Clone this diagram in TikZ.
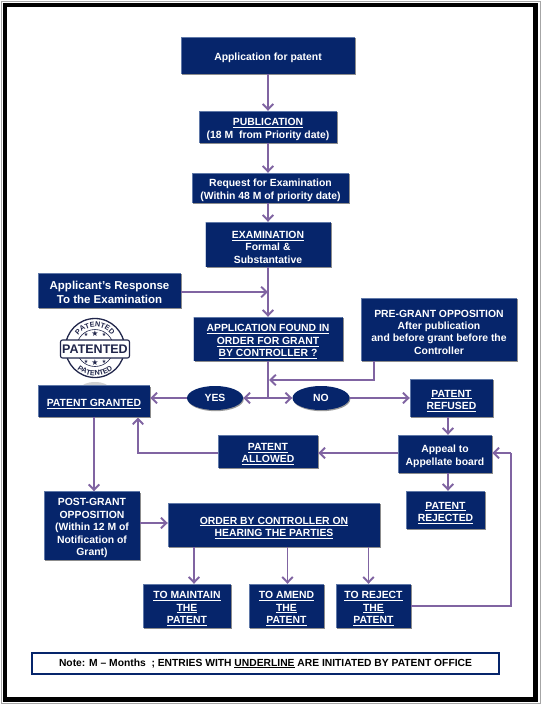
\documentclass[tikz,border=0pt]{standalone}
\usepackage{fontspec}
\setmainfont{Liberation Sans}
\newfontfamily\starfont{DejaVu Sans}
\usetikzlibrary{arrows.meta,shadows,decorations.text,calc,shapes.geometric}
\definecolor{navy}{HTML}{06256B}
\definecolor{bevel}{HTML}{5F78A8}
\definecolor{flow}{HTML}{8064A2}
\definecolor{stampcol}{HTML}{20254A}
\newcommand{\ulx}[1]{\underline{#1}}
\newcommand{\tpx}{\rule{0pt}{12.5pt}}
\tikzset{
  pbox/.style={rectangle,fill=navy,text=white,align=center,inner sep=0pt,
    font=\bfseries\fontsize{10.4}{12.4}\selectfont,
    general shadow={fill=black!45,shadow xshift=1pt,shadow yshift=-1.2pt},
    path picture={\draw[bevel,line width=1.4pt]
      (path picture bounding box.south west)--(path picture bounding box.north west)--(path picture bounding box.north east);}},
  poval/.style={ellipse,fill=navy,text=white,inner sep=0pt,
    font=\bfseries\fontsize{10.4}{12.4}\selectfont,
    general shadow={fill=black!40,shadow xshift=0.8pt,shadow yshift=-1.2pt}},
  flowline/.style={draw=flow,line width=1.9pt},
  flowarrow/.style={flowline,-{Straight Barb[length=5.5pt,width=10.5pt,line width=1.9pt]}},
  notebox/.style={draw=navy,line width=1.5pt,fill=white,inner sep=0pt,text=black,
    font=\bfseries\fontsize{10.3}{11}\selectfont},
  stampring/.style={draw=stampcol},
  stampstar/.style={text=stampcol,inner sep=0pt,font=\starfont\fontsize{#1}{#1}\selectfont},
}
\begin{document}
\begin{tikzpicture}[x=1pt,y=-1pt]
\useasboundingbox (0,0) rectangle (542,704);
\fill[white] (0,0) rectangle (542,704);
\draw[black!35,line width=1pt] (1.5,1.5) rectangle (540,703);
\draw[black,line width=4.2pt] (5,5) rectangle (535.5,699.5);
% faint grey arc above the granted box
\fill[black!18] (95,388) ellipse[x radius=14,y radius=6];
% boxes
\node[pbox,minimum width=174pt,minimum height=37pt] (app) at (268,55.5) {\tpx Application for patent};
\node[pbox,minimum width=138pt,minimum height=32pt] (pub) at (268,127) {\tpx\ulx{PUBLICATION}\\(18 M\ \ from Priority date)};
\node[pbox,minimum width=157pt,minimum height=30pt] (req) at (270.5,188) {\tpx Request for Examination\\(Within 48 M of priority date)};
\node[pbox,minimum width=125pt,minimum height=45pt] (exam) at (268,244.5) {\tpx\ulx{EXAMINATION}\\Formal \&\\Substantative};
\node[pbox,minimum width=143pt,minimum height=35pt,font=\bfseries\fontsize{11.5}{14}\selectfont] (resp) at (109.5,290.5) {\tpx Applicant’s Response\\To the Examination};
\node[pbox,minimum width=149pt,minimum height=44pt] (found) at (268,339) {\tpx\ulx{APPLICATION FOUND IN}\\\ulx{ORDER FOR GRANT}\\\ulx{BY CONTROLLER ?}};
\node[pbox,minimum width=156pt,minimum height=63pt] (pre) at (439,329.5) {\tpx PRE-GRANT OPPOSITION\\After publication\\and before grant before the\\Controller};
\node[pbox,minimum width=83pt,minimum height=38pt] (refused) at (451.5,398) {\tpx\ulx{PATENT}\\\ulx{REFUSED}};
\node[pbox,minimum width=112pt,minimum height=31pt] (granted) at (94,401) {\tpx\ulx{PATENT GRANTED}};
\node[poval,minimum width=56pt,minimum height=24pt] (yes) at (215,398) {YES};
\node[poval,minimum width=57pt,minimum height=24pt] (no) at (321,398) {NO};
\node[pbox,minimum width=100pt,minimum height=33pt] (allowed) at (268,451.5) {\tpx\ulx{PATENT}\\\ulx{ALLOWED}};
\node[pbox,minimum width=94pt,minimum height=38pt] (appeal) at (445,454) {\tpx Appeal to\\Appellate board};
\node[pbox,minimum width=79pt,minimum height=38pt] (rejected) at (445.5,510) {\tpx\ulx{PATENT}\\\ulx{REJECTED}};
\node[pbox,minimum width=96pt,minimum height=68pt] (post) at (92,525.5) {\tpx POST-GRANT\\OPPOSITION\\(Within 12 M of\\Notification of\\Grant)};
\node[pbox,minimum width=212pt,minimum height=44pt] (order) at (274,525) {\tpx\ulx{ORDER BY CONTROLLER ON}\\\ulx{HEARING THE PARTIES}};
\node[pbox,minimum width=88pt,minimum height=44pt] (maintain) at (187,606) {\tpx\ulx{TO MAINTAIN}\\\ulx{THE}\\\ulx{PATENT}};
\node[pbox,minimum width=75pt,minimum height=44pt] (amend) at (286.5,606) {\tpx\ulx{TO AMEND}\\\ulx{THE}\\\ulx{PATENT}};
\node[pbox,minimum width=75pt,minimum height=44pt] (reject) at (373.5,606) {\tpx\ulx{TO REJECT}\\\ulx{THE}\\\ulx{PATENT}};
\node[notebox,minimum width=467pt,minimum height=21pt] (note) at (265.5,663.5) {Note: M – Months\ \ ; ENTRIES WITH \ulx{UNDERLINE} ARE INITIATED BY PATENT OFFICE};
% junctions
\coordinate (jresp) at (268,292);
\coordinate (jmain) at (268,398);
\coordinate (jpre) at (269,380);
\coordinate (jrej) at (511,606);
\coordinate (jappeal) at (511,453);
% connectors
\draw[flowarrow] (app.south -| jmain) -- (pub.north -| jmain);
\draw[flowarrow] (pub.south -| jmain) -- (req.north -| jmain);
\draw[flowarrow] (req.south -| jmain) -- (exam.north -| jmain);
\draw[flowarrow] (exam.south -| jmain) -- (found.north -| jmain);
\draw[flowarrow] (resp.east |- jresp) -- (jresp);
\draw[flowline] (found.south -| jmain) -- (jmain);
\draw[flowarrow] (jmain) -- (yes.east);
\draw[flowarrow] (jmain) -- (no.west);
\draw[flowarrow] (yes.west) -- (granted.east |- yes.west);
\draw[flowarrow] (no.east) -- (refused.west |- no.east);
\draw[flowarrow] ($(pre.south west)+(13,0)$) |- (jpre);
\draw[flowarrow] (refused.south -| 448,0) -- (appeal.north -| 448,0);
\draw[flowarrow] (appeal.west |- 0,453) -- (allowed.east |- 0,453);
\draw[flowarrow] (allowed.west |- 0,453) -| (138,417.5);
\draw[flowarrow] (appeal.south -| 448,0) -- (rejected.north -| 448,0);
\draw[flowarrow] (granted.south) -- (post.north -| granted.south);
\draw[flowarrow] (post.east |- 0,523) -- (order.west |- 0,523);
\draw[flowarrow] (order.south -| 194,0) -- (maintain.north -| 194,0);
\draw[flowarrow] (order.south -| 287.5,0) -- (amend.north -| 287.5,0);
\draw[flowarrow] (order.south -| 368.5,0) -- (reject.north -| 368.5,0);
\draw[flowline] (reject.east |- jrej) -- (jrej) -- (jappeal);
\draw[flowarrow] (jappeal) -- (appeal.east |- jappeal);
% stamp
\begin{scope}[shift={(95,348)}]
  \draw[stampring,line width=1.3pt] (0,0) circle[radius=29.5];
  \draw[stampring,line width=0.6pt] (0,0) circle[radius=18.5];
  \path[decorate,decoration={text along path,text align=center,
    text={|\bfseries\fontsize{7.2}{8}\selectfont\color{stampcol}|PATENTED}}]
    (-20.7,-3.6) arc[start angle=190,end angle=350,radius=21];
  \path[decorate,decoration={text along path,text align=center,
    text={|\bfseries\fontsize{7.2}{8}\selectfont\color{stampcol}|PATENTED}}]
    (-27.1,4.8) arc[start angle=170,end angle=10,radius=27.5];
  \node[stampstar=8] (st1) at (0,-14) {★};
  \node[stampstar=5] (st2) at (-9,-13) {★};
  \node[stampstar=5] (st3) at (9,-13) {★};
  \node[stampstar=8] (st4) at (0,15) {★};
  \node[stampstar=5] (st5) at (-9,14) {★};
  \node[stampstar=5] (st6) at (9,14) {★};
  \node[draw=stampcol,line width=1.1pt,fill=white,rounded corners=2pt,inner sep=0pt,
    minimum width=69pt,minimum height=18pt,font=\bfseries\fontsize{12.5}{12.5}\selectfont,text=stampcol] (stamp) at (0,1) {PATENTED};
\end{scope}
\end{tikzpicture}
\end{document}
